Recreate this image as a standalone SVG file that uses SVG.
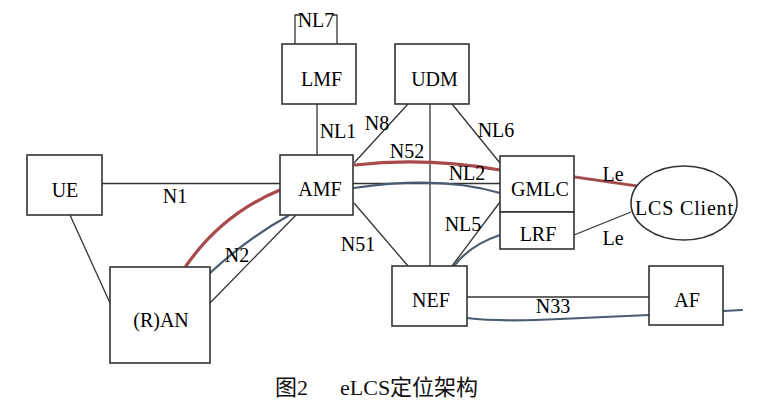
<svg xmlns="http://www.w3.org/2000/svg" width="769" height="418" viewBox="0 0 769 418">
<style>
.box{fill:#fff;stroke:#333;stroke-width:1.6}
.ln{fill:none;stroke:#333;stroke-width:1.3}
.red{fill:none;stroke:#a8494b;stroke-width:3.2;stroke-linecap:round}
.blue{fill:none;stroke:#4b5b72;stroke-width:2.2;stroke-linecap:round}
.t{font-family:'Liberation Serif','Times New Roman',Times,serif;font-size:20px;fill:#000;text-anchor:middle}
.cap{font-family:'Liberation Serif','Noto Sans CJK SC',serif;font-size:22px;fill:#111}
</style>
<rect width="769" height="418" fill="#fff"/>
<g id="connectors">
  <path class="ln" d="M295 44 V15 H300 M332 15 H337 V44"/>
  <line class="ln" x1="317" y1="104" x2="317" y2="155"/>
  <line class="ln" x1="408" y1="104" x2="354" y2="163"/>
  <line class="ln" x1="430" y1="104" x2="430" y2="266"/>
  <line class="ln" x1="452" y1="104" x2="500" y2="163"/>
  <line class="ln" x1="102" y1="183.5" x2="280" y2="183.5"/>
  <line class="ln" x1="70" y1="215" x2="110" y2="303"/>
  <line class="ln" x1="210" y1="303" x2="296" y2="215"/>
  <line class="ln" x1="353" y1="183.5" x2="500" y2="183.5"/>
  <line class="ln" x1="354" y1="203" x2="408" y2="266"/>
  <line class="ln" x1="500" y1="202" x2="452" y2="266"/>
  <line class="ln" x1="467" y1="297" x2="649" y2="297"/>
  <line class="ln" x1="574" y1="235" x2="631" y2="212"/>
  <line class="ln" x1="574" y1="177" x2="638" y2="186"/>
  <path class="red" d="M186 266 Q222 214 280 190"/>
  <path class="red" d="M355 165 Q425 157 500 170"/>
  <path class="red" d="M575 177 L637 186" stroke-width="2.6" opacity="0.85"/>
  <path class="blue" d="M210 273 Q248 238 288 216"/>
  <path class="blue" d="M354 188 Q440 175 500 193"/>
  <path class="blue" d="M500 235 Q470 245 454 266"/>
  <path class="blue" d="M467 318 Q500 322 560 319 L649 315"/>
  <path class="blue" d="M723 311 L742 310"/>
</g>
<g id="LMF"><rect class="box" x="282" y="44" width="74" height="60"/><text class="t" x="321.5" y="86">LMF</text></g>
<g id="UDM"><rect class="box" x="395" y="44" width="74" height="60"/><text class="t" x="434.5" y="86">UDM</text></g>
<g id="UE"><rect class="box" x="27" y="155" width="75" height="60"/><text class="t" x="65" y="197">UE</text></g>
<g id="AMF"><rect class="box" x="280" y="155" width="73" height="60"/><text class="t" x="320" y="196">AMF</text></g>
<g id="RAN"><rect class="box" x="110" y="267" width="100" height="96"/><text class="t" x="161" y="327">(R)AN</text></g>
<g id="GMLC"><rect class="box" x="500" y="156" width="74" height="56"/><text class="t" x="540" y="196">GMLC</text></g>
<g id="LRF"><rect class="box" x="500" y="212" width="74" height="37"/><text class="t" x="538" y="241">LRF</text></g>
<g id="LCSClient"><ellipse class="box" cx="684" cy="203" rx="53" ry="37"/><text class="t" x="684" y="215" textLength="98">LCS Client</text></g>
<g id="NEF"><rect class="box" x="392" y="266" width="75" height="60"/><text class="t" x="431" y="307">NEF</text></g>
<g id="AF"><rect class="box" x="649" y="266" width="74" height="59"/><text class="t" x="687" y="307">AF</text></g>
<g id="labels">
  <text class="t" x="316" y="27">NL7</text>
  <text class="t" x="338" y="138">NL1</text>
  <text class="t" x="377" y="130">N8</text>
  <text class="t" x="496" y="137">NL6</text>
  <text class="t" x="407" y="158">N52</text>
  <text class="t" x="467" y="180">NL2</text>
  <text class="t" x="175" y="203">N1</text>
  <text class="t" x="237" y="262">N2</text>
  <text class="t" x="358" y="251">N51</text>
  <text class="t" x="463" y="231">NL5</text>
  <text class="t" x="613" y="181">Le</text>
  <text class="t" x="613" y="245">Le</text>
  <text class="t" x="553" y="313">N33</text>
</g>
<g id="caption">
  <text class="cap" x="275" y="395">图2</text>
  <text class="cap" x="340" y="395">eLCS定位架构</text>
</g>
</svg>
